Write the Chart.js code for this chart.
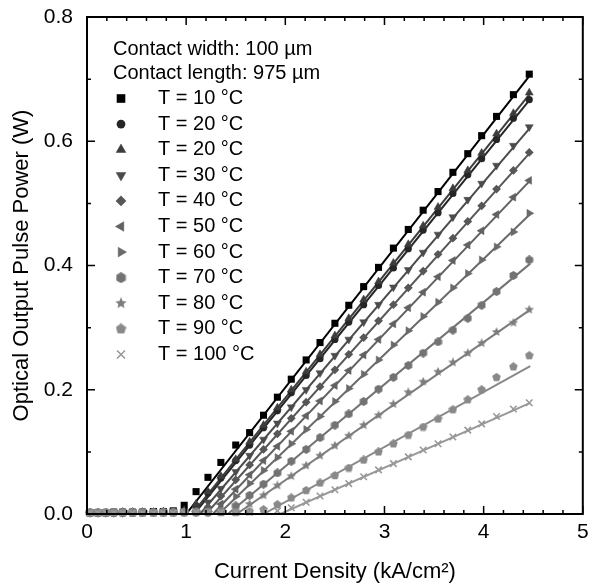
<!DOCTYPE html>
<html>
<head>
<meta charset="utf-8">
<script src="https://cdn.jsdelivr.net/npm/chart.js@4.4.1/dist/chart.umd.min.js"></script>
<style>
  html, body { margin: 0; padding: 0; background: #fff; }
  #wrap { width: 589px; height: 583px; position: relative; }
</style>
</head>
<body>
<div id="wrap"><canvas id="myChart"></canvas></div>
<script>
// current density steps (kA/cm2), shared by all temperatures
const currentDensity = [0.03, 0.11, 0.19, 0.27, 0.36, 0.46, 0.56, 0.67, 0.77, 0.87, 0.98, 1.10, 1.22, 1.35, 1.50, 1.64, 1.78, 1.92, 2.06, 2.21, 2.35, 2.50, 2.64, 2.79, 2.94, 3.09, 3.24, 3.39, 3.54, 3.69, 3.84, 3.98, 4.13, 4.30, 4.46]

// measured pulse power (W)
const p10 = [0.002, 0.002, 0.002, 0.003, 0.003, 0.003, 0.003, 0.004, 0.004, 0.005, 0.014, 0.036, 0.059, 0.083, 0.111, 0.131, 0.159, 0.188, 0.217, 0.248, 0.276, 0.307, 0.336, 0.366, 0.397, 0.428, 0.458, 0.489, 0.519, 0.550, 0.580, 0.609, 0.640, 0.675, 0.708]
const p20a = [0.002, 0.002, 0.002, 0.002, 0.003, 0.003, 0.003, 0.003, 0.004, 0.004, 0.005, 0.013, 0.034, 0.058, 0.086, 0.111, 0.139, 0.166, 0.195, 0.223, 0.250, 0.281, 0.309, 0.337, 0.368, 0.396, 0.427, 0.457, 0.485, 0.516, 0.546, 0.572, 0.603, 0.637, 0.667]
const p20b = [0.002, 0.002, 0.002, 0.002, 0.003, 0.003, 0.003, 0.003, 0.004, 0.004, 0.006, 0.016, 0.036, 0.061, 0.088, 0.116, 0.143, 0.171, 0.200, 0.229, 0.257, 0.287, 0.315, 0.345, 0.374, 0.404, 0.434, 0.464, 0.494, 0.524, 0.553, 0.581, 0.612, 0.645, 0.678]
const p30 = [0.002, 0.002, 0.002, 0.002, 0.002, 0.003, 0.003, 0.003, 0.003, 0.004, 0.004, 0.007, 0.019, 0.041, 0.068, 0.094, 0.120, 0.146, 0.172, 0.200, 0.227, 0.255, 0.281, 0.309, 0.337, 0.365, 0.393, 0.421, 0.450, 0.478, 0.506, 0.532, 0.561, 0.593, 0.623]
const p40 = [0.002, 0.002, 0.002, 0.002, 0.002, 0.003, 0.003, 0.003, 0.003, 0.003, 0.004, 0.005, 0.011, 0.029, 0.055, 0.079, 0.104, 0.129, 0.154, 0.180, 0.205, 0.232, 0.257, 0.284, 0.311, 0.337, 0.364, 0.391, 0.418, 0.444, 0.471, 0.496, 0.523, 0.553, 0.582]
const p50 = [0.002, 0.002, 0.002, 0.002, 0.002, 0.002, 0.003, 0.003, 0.003, 0.003, 0.003, 0.004, 0.006, 0.016, 0.040, 0.063, 0.086, 0.109, 0.133, 0.158, 0.182, 0.207, 0.231, 0.256, 0.281, 0.306, 0.332, 0.357, 0.382, 0.408, 0.433, 0.456, 0.482, 0.510, 0.537]
const p60 = [0.002, 0.002, 0.002, 0.002, 0.002, 0.002, 0.002, 0.003, 0.003, 0.003, 0.003, 0.003, 0.004, 0.007, 0.028, 0.049, 0.070, 0.091, 0.113, 0.136, 0.157, 0.181, 0.202, 0.225, 0.248, 0.272, 0.295, 0.318, 0.341, 0.364, 0.387, 0.409, 0.430, 0.454, 0.484]
const p70 = [0.002, 0.002, 0.002, 0.002, 0.002, 0.002, 0.002, 0.002, 0.003, 0.003, 0.003, 0.003, 0.003, 0.004, 0.013, 0.030, 0.048, 0.066, 0.085, 0.104, 0.123, 0.143, 0.161, 0.181, 0.201, 0.220, 0.239, 0.259, 0.277, 0.296, 0.315, 0.336, 0.358, 0.384, 0.409]
const p80 = [0.002, 0.002, 0.002, 0.002, 0.002, 0.002, 0.002, 0.002, 0.002, 0.003, 0.003, 0.003, 0.003, 0.003, 0.004, 0.016, 0.030, 0.046, 0.061, 0.078, 0.094, 0.110, 0.126, 0.143, 0.159, 0.177, 0.196, 0.213, 0.229, 0.244, 0.259, 0.275, 0.293, 0.308, 0.329]
const p90 = [0.002, 0.002, 0.002, 0.002, 0.002, 0.002, 0.002, 0.002, 0.002, 0.002, 0.003, 0.003, 0.003, 0.003, 0.003, 0.004, 0.007, 0.015, 0.026, 0.038, 0.050, 0.062, 0.074, 0.087, 0.100, 0.113, 0.127, 0.140, 0.153, 0.168, 0.184, 0.200, 0.220, 0.237, 0.255]
const p100 = [0.002, 0.002, 0.002, 0.002, 0.002, 0.002, 0.002, 0.002, 0.002, 0.002, 0.002, 0.003, 0.003, 0.003, 0.003, 0.003, 0.004, 0.005, 0.010, 0.019, 0.029, 0.039, 0.049, 0.060, 0.071, 0.081, 0.092, 0.103, 0.113, 0.124, 0.135, 0.145, 0.157, 0.169, 0.179]

// linear fits: threshold (kA/cm2) and power at the last point
const fitThreshold = [1.00, 1.08, 1.06, 1.14, 1.20, 1.27, 1.33, 1.42, 1.51, 1.78, 1.95]
const fitEndJ = 4.47
const fitEndPower = [0.707, 0.668, 0.677, 0.622, 0.582, 0.537, 0.483, 0.403, 0.329, 0.238, 0.179]

const seriesLabels = ['T = 10 °C', 'T = 20 °C', 'T = 20 °C', 'T = 30 °C', 'T = 40 °C', 'T = 50 °C', 'T = 60 °C', 'T = 70 °C', 'T = 80 °C', 'T = 90 °C', 'T = 100 °C']
const seriesPower = [p10, p20a, p20b, p30, p40, p50, p60, p70, p80, p90, p100]
const noteLines = ['Contact width: 100 µm', 'Contact length: 975 µm']
const xTitle = 'Current Density (kA/cm²)'
const yTitle = 'Optical Output Pulse Power (W)'

// styles
const FONT = '"Liberation Sans", Arial, Helvetica, sans-serif'
const grays = ['#000000', '#262626', '#3d3d3d', '#4b4b4b', '#575757', '#616161', '#6a6a6a', '#737373', '#7d7d7d', '#898989', '#989898']

// little canvas markers for shapes Chart.js does not have
const shapeCanvas = (kind, color, size) => {
  const c = document.createElement('canvas')
  c.width = c.height = size
  const g = c.getContext('2d')
  const r = size / 2, cx = size / 2, cy = size / 2
  g.fillStyle = color
  g.beginPath()
  if (kind === 'star') {
    for (let i = 0; i < 10; i++) {
      const a = -Math.PI / 2 + i * Math.PI / 5
      const rr = i % 2 ? r * 0.45 : r
      g.lineTo(cx + rr * Math.cos(a), cy + rr * Math.sin(a))
    }
  } else {
    const n = kind === 'hexagon' ? 6 : 5
    for (let i = 0; i < n; i++) {
      const a = -Math.PI / 2 + i * 2 * Math.PI / n
      g.lineTo(cx + r * Math.cos(a), cy + r * Math.sin(a))
    }
  }
  g.closePath()
  g.fill()
  return c
}

// marker style per series; bigger in legend
const markerFor = (i, big) => {
  const k = big ? 1.22 : 1
  const color = grays[i]
  const base = { color, rotation: 0, borderWidth: 1 }
  switch (i) {
    case 0: return { ...base, pointStyle: 'rect', radius: 5 * k, borderWidth: 0 }
    case 1: return { ...base, pointStyle: 'circle', radius: 3.6 * k, borderWidth: 0 }
    case 2: return { ...base, pointStyle: 'triangle', radius: 4.6 * k, borderWidth: 0.5 }
    case 3: return { ...base, pointStyle: 'triangle', rotation: 180, radius: 4.6 * k, borderWidth: 0.5 }
    case 4: return { ...base, pointStyle: 'rectRot', radius: 4.4 * k, borderWidth: 0 }
    case 5: return { ...base, pointStyle: 'triangle', rotation: 270, radius: 4.6 * k, borderWidth: 0.5 }
    case 6: return { ...base, pointStyle: 'triangle', rotation: 90, radius: 4.6 * k, borderWidth: 0.5 }
    case 7: return { ...base, pointStyle: shapeCanvas('hexagon', color, big ? 11 : 9), radius: 4 * k }
    case 8: return { ...base, pointStyle: shapeCanvas('star', color, big ? 12 : 10), radius: 4 * k }
    case 9: return { ...base, pointStyle: shapeCanvas('pentagon', color, big ? 11 : 9), radius: 4 * k }
    default: return { ...base, pointStyle: 'crossRot', radius: 4.6 * k, borderWidth: 1.6 }
  }
}

// builder for the measured points
const buildPointSet = (power, i) => {
  const m = markerFor(i, false)
  return {
    label: seriesLabels[i],
    data: currentDensity.map((j, n) => ({ x: j, y: power[n] })),
    showLine: false,
    pointStyle: m.pointStyle,
    pointRadius: m.radius,
    pointRotation: m.rotation,
    pointBorderWidth: m.borderWidth,
    backgroundColor: m.color,
    borderColor: m.color,
    order: 20 - i,
    clip: false
  }
}

// builder for the fit line
const buildFitSet = (th, i) => ({
  label: seriesLabels[i] + ' fit',
  data: [{ x: th, y: 0 }, { x: fitEndJ, y: fitEndPower[i] }],
  showLine: true,
  borderColor: grays[i],
  borderWidth: 2,
  pointRadius: 0,
  order: 40 - i
})

// frame with inward ticks on every side
const framePlugin = {
  id: 'frame',
  afterDatasetsDraw(chart) {
    const { ctx, chartArea: a, scales: { x, y } } = chart
    ctx.save()
    ctx.strokeStyle = '#000'
    ctx.lineWidth = 1.5
    ctx.beginPath()
    for (let i = 0; i <= 25; i++) {
      const px = x.getPixelForValue(i * 0.2)
      const len = i % 5 === 0 ? 8 : 4
      ctx.moveTo(px, a.bottom); ctx.lineTo(px, a.bottom - len)
      ctx.moveTo(px, a.top); ctx.lineTo(px, a.top + len)
    }
    for (let i = 0; i <= 8; i++) {
      const py = y.getPixelForValue(i * 0.1)
      const len = i % 2 === 0 ? 8 : 4
      ctx.moveTo(a.left, py); ctx.lineTo(a.left + len, py)
      ctx.moveTo(a.right, py); ctx.lineTo(a.right - len, py)
    }
    ctx.stroke()
    ctx.lineWidth = 2
    ctx.strokeRect(a.left, a.top, a.right - a.left, a.bottom - a.top)
    ctx.restore()
  }
}

// legend block inside the plot
const legendPlugin = {
  id: 'insideLegend',
  afterDraw(chart) {
    const ctx = chart.ctx
    ctx.save()
    ctx.font = '20px ' + FONT
    ctx.fillStyle = '#000'
    ctx.textBaseline = 'middle'
    ctx.fillText(noteLines[0], 113, 49)
    ctx.fillText(noteLines[1], 113, 73)
    seriesLabels.forEach((lab, i) => {
      const yy = 98.5 + i * 25.6
      const m = markerFor(i, true)
      ctx.fillStyle = m.color
      ctx.strokeStyle = m.color
      ctx.lineWidth = m.borderWidth
      Chart.helpers.drawPoint(ctx, { pointStyle: m.pointStyle, radius: m.radius, rotation: m.rotation, borderWidth: m.borderWidth }, 121, yy)
      ctx.fillStyle = '#000'
      ctx.fillText(lab, 158, yy)
    })
    ctx.restore()
  }
}

const createChart = () => {
  const datasets = seriesPower.map(buildPointSet).concat(fitThreshold.map(buildFitSet))
  const ctx = document.getElementById('myChart').getContext('2d')
  return new Chart(ctx, {
    type: 'scatter',
    data: { datasets },
    options: {
      responsive: true,
      maintainAspectRatio: false,
      animation: false,
      events: [],
      layout: { padding: { top: 17, right: 6, left: 0, bottom: 0 } },
      plugins: { legend: { display: false }, tooltip: { enabled: false } },
      scales: {
        x: {
          type: 'linear', min: 0, max: 5,
          grid: { display: false, drawTicks: false }, border: { display: false },
          ticks: { stepSize: 1, color: '#000', padding: 6, font: { family: FONT, size: 21 } },
          title: { display: true, text: xTitle, color: '#000', font: { family: FONT, size: 22, lineHeight: 1 }, padding: { top: 0, bottom: 0 } },
          // fixed box, no label overhang
          afterFit: s => { s.height = 69; s.paddingLeft = 0; s.paddingRight = 0 }
        },
        y: {
          type: 'linear', min: 0, max: 0.8,
          grid: { display: false, drawTicks: false }, border: { display: false },
          ticks: { stepSize: 0.2, color: '#000', padding: 14, font: { family: FONT, size: 21 }, callback: v => v.toFixed(1) },
          title: { display: true, text: yTitle, color: '#000', font: { family: FONT, size: 22, lineHeight: 1 }, padding: { top: 11, bottom: 0 } },
          afterFit: s => { s.width = 87; s.paddingTop = 0; s.paddingBottom = 0 }
        }
      }
    },
    plugins: [framePlugin, legendPlugin]
  })
}

createChart()
</script>
</body>
</html>
